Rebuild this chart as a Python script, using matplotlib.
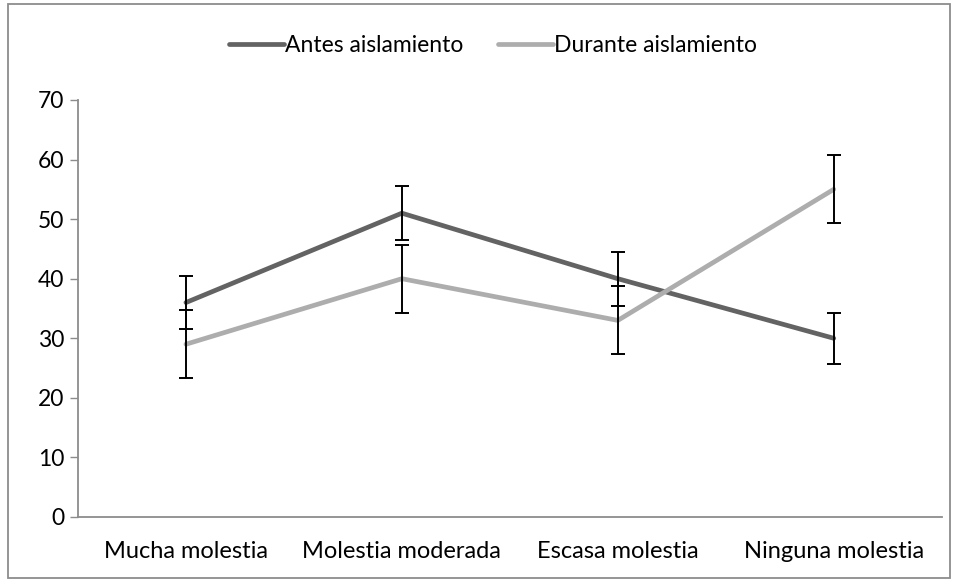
import numpy as np
import matplotlib.pyplot as plt
import matplotlib.patches as mpatches

plt.rcParams['font.family'] = ['Lato', 'DejaVu Sans']

# Data ------------------------------------------------------------------------
categories = ["Mucha molestia", "Molestia moderada", "Escasa molestia", "Ninguna molestia"]
antes = [36, 51, 40, 30]
antes_err = [4.5, 4.5, 4.5, 4.3]
durante = [29, 40, 33, 55]
durante_err = [5.7, 5.7, 5.7, 5.7]

dark = '#636363'
light = '#ADADAD'

#------------------------------------------------------------------------------
fig = plt.figure(figsize=(9.58, 5.81), dpi=100)
ax = fig.add_axes([0.0814, 0.1102, 0.9016, 0.7177])

x = np.arange(len(categories))
ax.plot(x, antes, color=dark, lw=3.4, solid_capstyle='round', label='Antes aislamiento', zorder=2)
ax.plot(x, durante, color=light, lw=3.4, solid_capstyle='round', label='Durante aislamiento', zorder=3)
ax.errorbar(x, antes, yerr=antes_err, fmt='none', ecolor='black', elinewidth=1.4,
            capsize=4.8, capthick=1.4, zorder=4)
ax.errorbar(x, durante, yerr=durante_err, fmt='none', ecolor='black', elinewidth=1.4,
            capsize=4.8, capthick=1.4, zorder=4)

ax.set_xlim(-0.5, 3.5)
ax.set_ylim(0, 70)
ax.set_yticks(range(0, 71, 10))
ax.set_xticks(x)
ax.set_xticklabels(categories)
ax.tick_params(axis='x', length=0, pad=17, labelsize=17)
ax.tick_params(axis='y', length=6, width=1, color='#8C8C8C', pad=4, labelsize=16.5)
for side in ['top', 'right']:
    ax.spines[side].set_visible(False)
for side in ['left', 'bottom']:
    ax.spines[side].set_color('#8C8C8C')
    ax.spines[side].set_linewidth(1.3)

leg = fig.legend(loc='center', bbox_to_anchor=(0.515, 0.922), ncol=2, frameon=False,
                 fontsize=16.5, handlelength=2.4, handletextpad=0.05, columnspacing=1.5)

fig.patches.append(mpatches.Rectangle((8 / 958, 3 / 581), 942 / 958, 574 / 581,
                                      transform=fig.transFigure, fill=False,
                                      edgecolor='#8C8C8C', lw=1.3))

fig.savefig('out.png', dpi=100)
